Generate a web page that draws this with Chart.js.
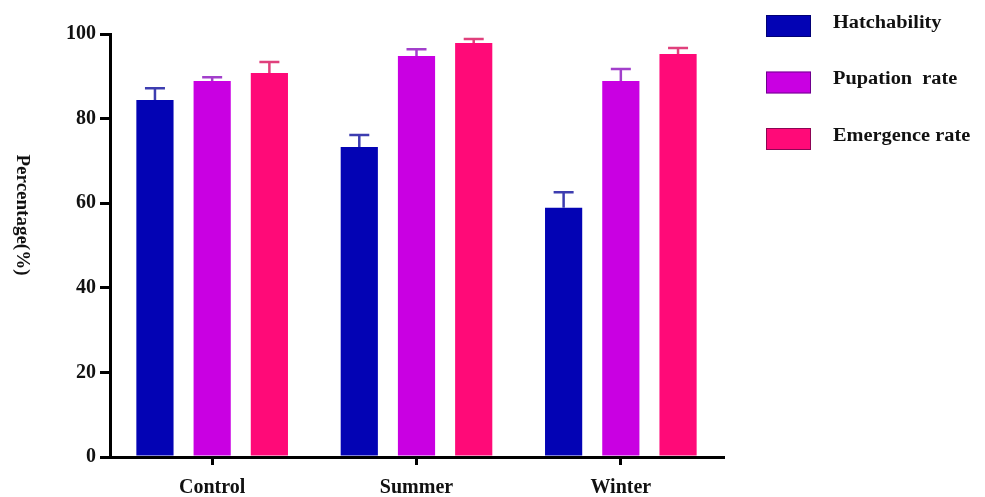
<!DOCTYPE html>
<html>
<head>
  <meta charset="UTF-8">
  <title>Hatchability, pupation and emergence</title>
  <style>
    html, body { margin: 0; padding: 0; background: #fff; }
    #wrap { width: 985px; height: 497px; }
  </style>
</head>
<body>
  <div id="wrap"><canvas id="chart" width="985" height="497"></canvas></div>

  <script src="https://cdn.jsdelivr.net/npm/chart.js"></script>
  <script>
    // data
    const groups      = ['Control', 'Summer', 'Winter'];
    const seriesNames = ['Hatchability', 'Pupation  rate', 'Emergence rate'];
    const hatch       = [84.4, 73.3, 58.9];
    const pupation    = [88.9, 94.8, 88.9];
    const emergence   = [90.8, 97.9, 95.3];
    const hatchErr    = [2.8, 2.8, 3.7];
    const pupErr      = [0.9, 1.6, 2.8];
    const emerErr     = [2.6, 0.9, 1.4];
    const yTicks      = [0, 20, 40, 60, 80, 100];

    const fills   = ['#0303b4', '#c900e2', '#ff0a78'];
    const errCols = ['#3d3db0', '#a23fcb', '#e0407c'];
    const serif   = '"Liberation Serif", "Times New Roman", serif';

    // error bars (mean + SE), drawn from the bar scale
    const errorBars = {
      id: 'errorBars',
      afterDatasetsDraw(chart) {
        const ctx = chart.ctx;
        const y = chart.scales.y;
        chart.data.datasets.forEach((ds, i) => {
          const meta = chart.getDatasetMeta(i);
          meta.data.forEach((bar, j) => {
            const top = y.getPixelForValue(ds.data[j] + ds.err[j]);
            ctx.save();
            ctx.strokeStyle = ds.errColor;
            ctx.lineWidth = 2.5;
            ctx.beginPath();
            ctx.moveTo(bar.x, bar.y);
            ctx.lineTo(bar.x, top);
            ctx.moveTo(bar.x - 10, top);
            ctx.lineTo(bar.x + 10, top);
            ctx.stroke();
            ctx.restore();
          });
        });
      }
    };

    // y title reads top-to-bottom in the original, so draw it by hand
    const yTitle = {
      id: 'yTitle',
      afterDraw(chart) {
        const ctx = chart.ctx;
        ctx.save();
        ctx.translate(22, 215);
        ctx.rotate(Math.PI / 2);
        ctx.font = 'bold 19px ' + serif;
        ctx.fillStyle = '#111';
        ctx.textAlign = 'center';
        ctx.textBaseline = 'middle';
        ctx.fillText('Percentage(%)', 0, 0);
        ctx.restore();
      }
    };

    // legend at the top right, like the original figure
    const sideLegend = {
      id: 'sideLegend',
      afterDraw(chart) {
        const ctx = chart.ctx;
        const x0 = chart.chartArea.right + 43;
        ctx.save();
        ctx.font = 'bold 18px ' + serif;
        ctx.textBaseline = 'middle';
        chart.data.datasets.forEach((ds, i) => {
          const top = 15 + i * 56.5;
          ctx.fillStyle = ds.backgroundColor;
          ctx.fillRect(x0, top, 45, 22);
          ctx.strokeStyle = 'rgba(0,0,40,0.45)';
          ctx.lineWidth = 1;
          ctx.strokeRect(x0 + 0.5, top + 0.5, 44, 21);
          ctx.save();
          ctx.translate(x0 + 67, top + 8);
          ctx.scale(1.13, 1);
          ctx.fillStyle = '#111';
          ctx.fillText(ds.label, 0, 0);
          ctx.restore();
        });
        ctx.restore();
      }
    };

    const values = [hatch, pupation, emergence];
    const errs   = [hatchErr, pupErr, emerErr];

    new Chart(document.getElementById('chart'), {
      type: 'bar',
      data: {
        labels: groups,
        datasets: seriesNames.map((name, i) => ({
          label: name,
          data: values[i],
          err: errs[i],
          errColor: errCols[i],
          backgroundColor: fills[i],
          borderWidth: 0,
          categoryPercentage: 0.84,
          barPercentage: 0.65
        }))
      },
      options: {
        responsive: false,
        animation: false,
        layout: { padding: { top: 34, right: 262, left: 0, bottom: 0 } },
        plugins: { legend: { display: false }, tooltip: { enabled: false } },
        scales: {
          x: {
            afterFit(s) { s.height = 40; },
            grid: { display: true, offset: false, drawOnChartArea: false, tickLength: 8, color: '#000', lineWidth: 3 },
            border: { display: true, color: '#000', width: 3 },
            ticks: { color: '#111', padding: 11, font: { family: serif, size: 20, weight: 'bold' } }
          },
          y: {
            min: 0,
            max: 100,
            afterFit(s) { s.width = 110; },
            afterBuildTicks(s) { s.ticks = yTicks.map(v => ({ value: v })); },
            grid: { display: true, drawOnChartArea: false, tickLength: 10, color: '#000', lineWidth: 3 },
            border: { display: true, color: '#000', width: 3 },
            ticks: { color: '#111', padding: 4, font: { family: serif, size: 20, weight: 'bold' } }
          }
        }
      },
      plugins: [errorBars, yTitle, sideLegend]
    });
  </script>
</body>
</html>
